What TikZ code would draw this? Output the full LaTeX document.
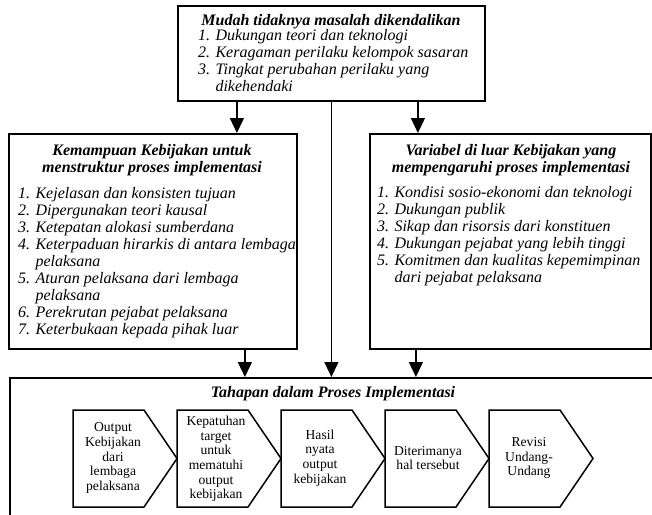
\documentclass[tikz,border=0pt]{standalone}
\usepackage{fontspec}
\setmainfont{Liberation Serif}
\usetikzlibrary{arrows.meta,calc}

\tikzset{
  frame/.style={draw,line width=1.8pt,inner sep=0pt,anchor=north west},
  conn/.style={line width=1.3pt,-{Triangle[width=14pt,length=15pt]}},
  head/.style={font=\fontsize{16}{17}\selectfont\bfseries\itshape,align=center,inner sep=0pt},
  items/.style={font=\fontsize{16}{17}\selectfont\itshape,align=left,inner sep=0pt,anchor=north west},
  chev/.style={draw,line width=1.5pt,line join=miter},
  chevtext/.style={font=\fontsize{13.6}{14.6}\selectfont,align=center,inner sep=0pt}
}

\begin{document}
\begin{tikzpicture}[x=1pt,y=-1pt]
  \useasboundingbox (0,0) rectangle (652,514);
  \clip (0,0) rectangle (652,514);

  % boxes
  \node[frame,minimum width=307pt,minimum height=95pt]  (src)   at (177,5)   {};
  \node[frame,minimum width=288pt,minimum height=215pt] (lbox)  at (8,133)   {};
  \node[frame,minimum width=281pt,minimum height=215pt] (rbox)  at (369,133) {};
  \node[frame,minimum width=700pt,minimum height=200pt] (stage) at (9,377)   {};

  % top box text
  \node[head,anchor=base] (srchead) at (331,25) {Mudah tidaknya masalah dikendalikan};
  \node[items] (srclist) at (198,29) {1. Dukungan teori dan teknologi\\
    2. Keragaman perilaku kelompok sasaran\\
    3. Tingkat perubahan perilaku yang\\
    \phantom{3. }dikehendaki};

  % left box text
  \node[head,anchor=north] (lhead) at (152,144) {Kemampuan Kebijakan untuk\\ menstruktur proses implementasi};
  \node[items] (llist) at (18,187) {1. Kejelasan dan konsisten tujuan\\
    2. Dipergunakan teori kausal\\
    3. Ketepatan alokasi sumberdana\\
    4. Keterpaduan hirarkis di antara lembaga\\
    \phantom{4. }pelaksana\\
    5. Aturan pelaksana dari lembaga\\
    \phantom{5. }pelaksana\\
    6. Perekrutan pejabat pelaksana\\
    7. Keterbukaan kepada pihak luar};

  % right box text
  \node[head,anchor=north] (rhead) at (511,144) {Variabel di luar Kebijakan yang\\ mempengaruhi proses implementasi};
  \node[items] (rlist) at (377,186) {1. Kondisi sosio-ekonomi dan teknologi\\
    2. Dukungan publik\\
    3. Sikap dan risorsis dari konstituen\\
    4. Dukungan pejabat yang lebih tinggi\\
    5. Komitmen dan kualitas kepemimpinan\\
    \phantom{5. }dari pejabat pelaksana};

  % bottom box heading
  \node[head,anchor=base] (stagehead) at (333,397) {Tahapan dalam Proses Implementasi};

  % chevron stages
  \foreach \x in {73,177,281,385,489}
    \draw[chev] (\x,410) -- ++(71,0) -- ++(33,48.5) -- ++(-33,48.5) -- ++(-71,0) -- cycle;
  \node[chevtext] (c1) at (113,458) {Output\\ Kebijakan\\ dari\\ lembaga\\ pelaksana};
  \node[chevtext] (c2) at (216,459) {Kepatuhan\\ target\\ untuk\\ mematuhi\\ output\\ kebijakan};
  \node[chevtext] (c3) at (320,458) {Hasil\\ nyata\\ output\\ kebijakan};
  \node[chevtext] (c4) at (428,458) {Diterimanya\\ hal tersebut};
  \node[chevtext] (c5) at (529,458) {Revisi\\ Undang-\\ Undang};

  % connectors
  \coordinate (t1) at ([xshift=-94.5pt]src.south);
  \coordinate (t2) at (src.south);
  \coordinate (t3) at ([xshift=86.5pt]src.south);
  \coordinate (b1) at ([xshift=92pt]lbox.south);
  \coordinate (b2) at ([xshift=-94.5pt]rbox.south);
  \draw[conn] (t1) -- (t1 |- lbox.north);
  \draw[conn] (t3) -- (t3 |- rbox.north);
  \draw[conn] (t2) -- (t2 |- stage.north);
  \draw[conn] (b1) -- (b1 |- stage.north);
  \draw[conn] (b2) -- (b2 |- stage.north);
\end{tikzpicture}
\end{document}
